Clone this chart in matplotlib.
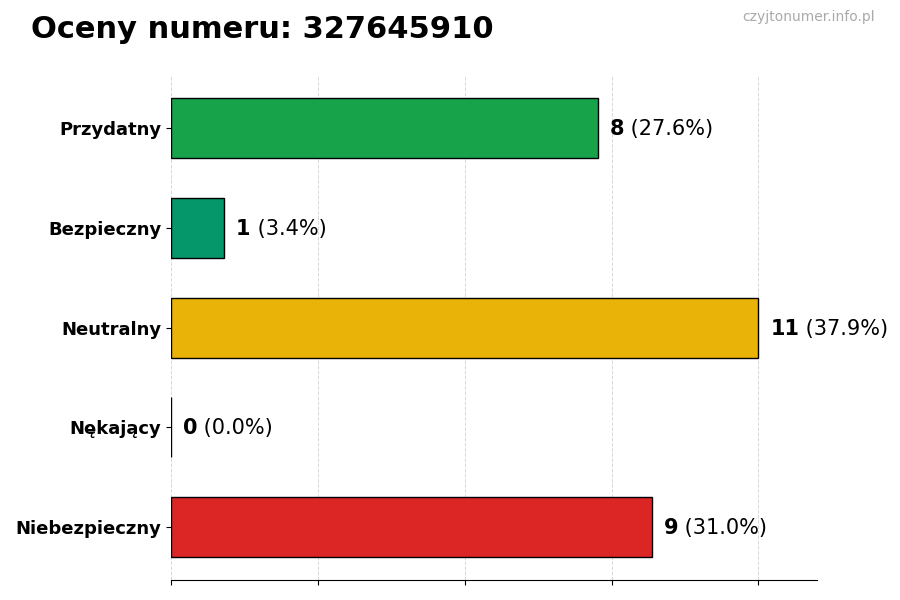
import matplotlib
matplotlib.use("Agg")
import matplotlib.pyplot as plt
import numpy as np

categories = ["Przydatny", "Bezpieczny", "Neutralny", "Nękający", "Niebezpieczny"]
counts = [8, 1, 11, 0, 9]
colors = ["#16a34a", "#059669", "#eab308", "#64748b", "#dc2626"]
number = "327645910"

total = sum(counts)
ypos = np.arange(len(categories))

fig = plt.figure(figsize=(9, 6), dpi=100)
ax = fig.add_axes([0.19, 0.033, 0.718, 0.842])

ax.barh(ypos, counts, height=0.6, color=colors, edgecolor="black", linewidth=1, zorder=3)
ax.invert_yaxis()
ax.set_yticks(ypos)
ax.set_yticklabels(categories, fontsize=13, fontweight="bold")

xmax = max(counts)
ax.set_xlim(0, xmax * 1.1)
ax.set_xticks(np.linspace(0, xmax, 5))
ax.set_xticklabels([])
ax.grid(axis="x", linestyle="--", color="#d8d8d8", linewidth=0.7, zorder=0)

for s in ["top", "right", "left"]:
    ax.spines[s].set_visible(False)

# value labels: bold count, then percentage
for y, c in zip(ypos, counts):
    t = ax.text(c + xmax * 0.02, y + 0.01, str(c), fontsize=15, fontweight="bold",
                va="center", ha="left")
    ax.annotate(f" ({c / total * 100:.1f}%)", xy=(1, 0.5), xycoords=t,
                fontsize=15, va="center", ha="left")

fig.text(0.034, 0.95, f"Oceny numeru: {number}", fontsize=22, fontweight="bold",
         va="center", ha="left")
fig.text(0.972, 0.971, "czyjtonumer.info.pl", fontsize=10, color="#aaaaaa",
         va="center", ha="right")

fig.savefig("out.png", dpi=100)
